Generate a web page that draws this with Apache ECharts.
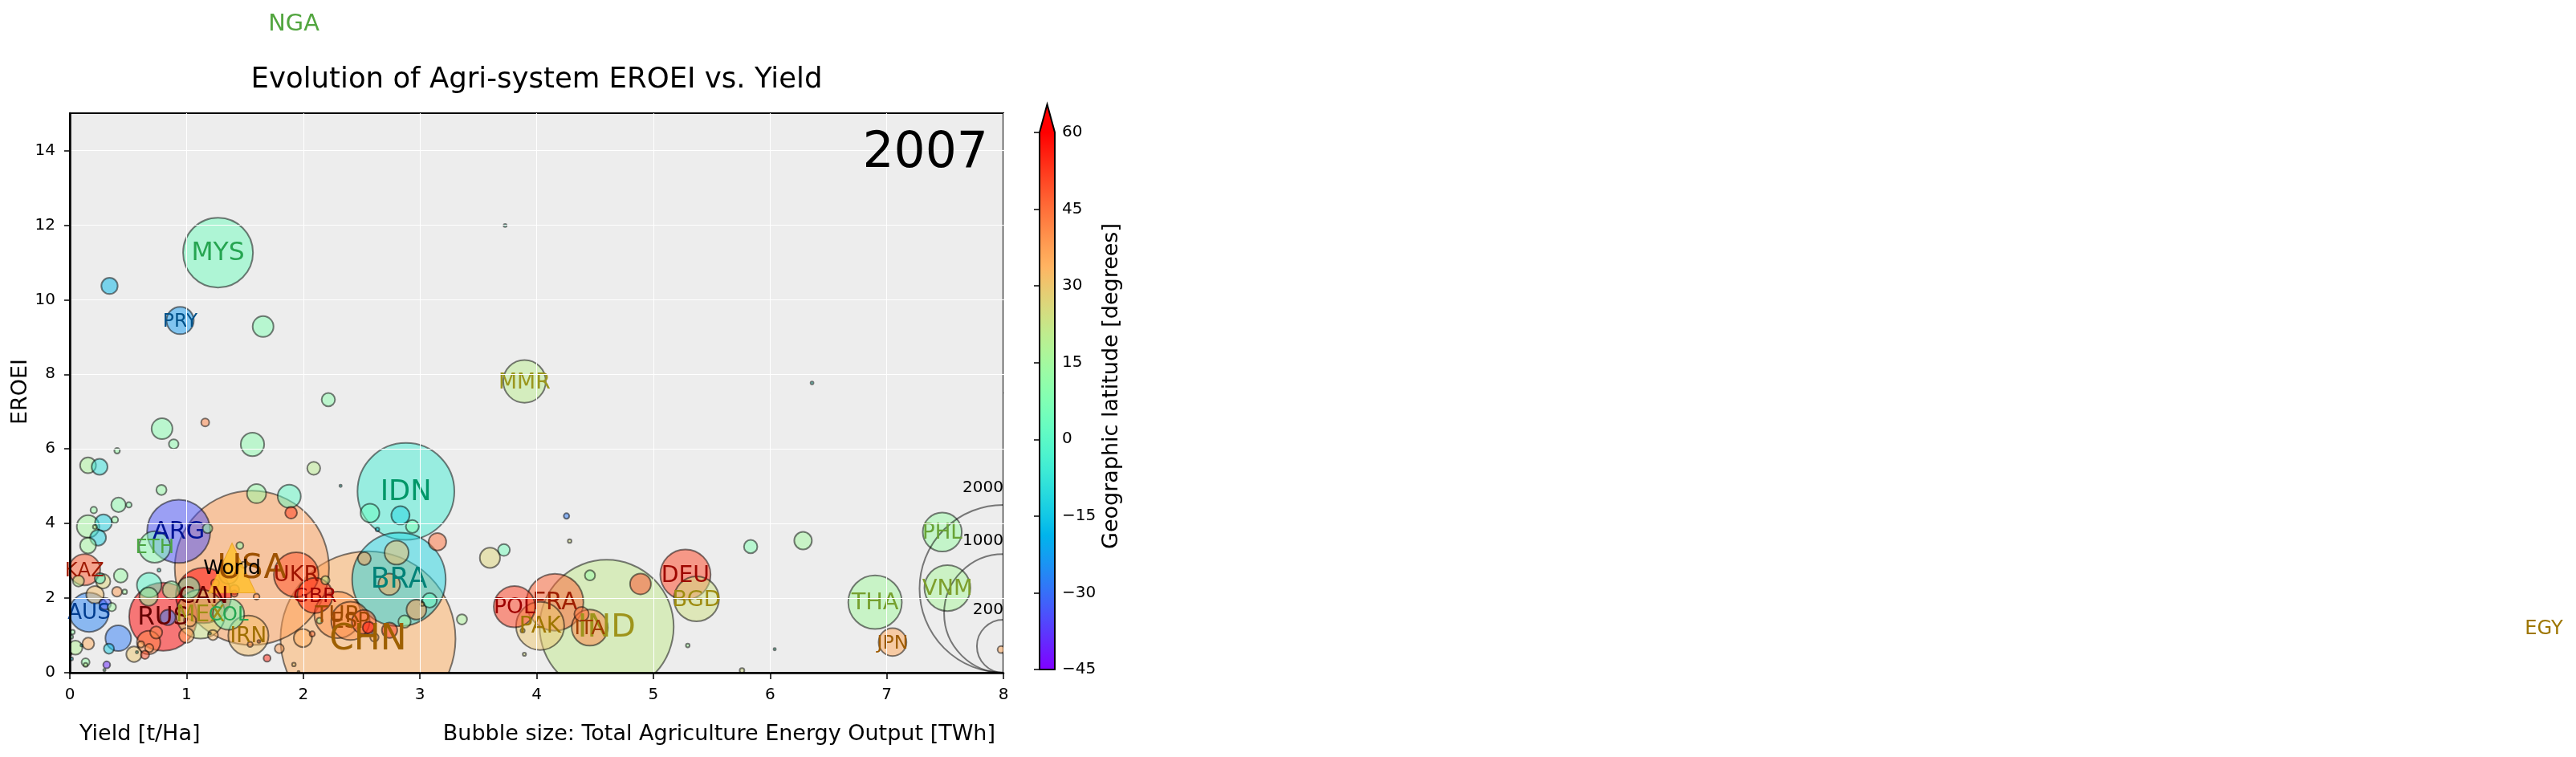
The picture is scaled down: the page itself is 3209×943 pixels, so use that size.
<!DOCTYPE html>
<html><head><meta charset="utf-8">
<style>html,body{margin:0;padding:0;background:#fff}#c{width:3209px;height:943px}</style>
<script src="https://cdn.jsdelivr.net/npm/echarts@6/dist/echarts.min.js"></script>
</head><body><div id="c"></div>
<script>
// Named countries
const names = ['MYS','PRY','MMR','IDN','ARG','ETH','USA','KAZ','CAN','RUS','MEX','COL','IRN','AUS','UKR','GBR','TUR','ESP','CHN','BRA','POL','FRA','PAK','IND','ITA','DEU','BGD','THA','JPN','VNM','PHL'];
const yields = [1.27,.945,3.896,2.88,.933,.727,1.56,.126,1.146,.80,1.12,1.36,1.53,.165,1.94,2.10,2.295,2.405,2.555,2.82,3.81,4.157,4.03,4.6,4.455,5.275,5.37,6.9,7.05,7.52,7.476];
const eroei = [11.26,9.44,7.81,4.86,3.79,3.37,2.81,2.76,2.07,1.5,1.57,1.57,.995,1.62,2.63,2.07,1.55,1.39,.91,2.5,1.77,1.89,1.255,1.23,1.21,2.63,1.98,1.89,.82,2.27,3.77];
const energy = [347,53,129,667,284,70,1690,70,218,330,170,70,115,110,142,89,154,105,2176,622,122,231,165,1277,93,180,144,204,55,150,108];
const latitude = [4,-23,20,-5,-34,9,38,48,60,62,23,4,32,-27,49,54,39,40,35,-12,52,47,30,21,42,51,24,15,36,16,13];

// Countries whose points lie outside the axes (only their labels show)
const offNames = ['NGA','EGY'];
const offYields = [1.92,21.2];
const offEroei = [17.42,1.21];
const offEnergy = [206,65];
const offLatitude = [10,30];

// Unlabelled countries
const smallYields = [.34,1.656,3.73,2.215,1.16,.79,.89,1.565,.405,.156,
 .255,2.09,2.32,1.88,1.6,1.896,.785,.205,.417,.506,
 .156,.288,.386,.215,.242,.156,1.18,1.457,.764,.436,
 .258,.285,.074,.68,.675,.87,1.02,.303,.36,.216,
 .404,.47,.84,1.03,1.0,.74,.675,.61,.68,.644,
 .55,.575,.415,.335,.158,.048,.1,.023,.014,.135,
 .135,.316,.296,.014,.005,1.226,1.2,1.545,1.62,1.6,
 1.795,1.69,1.92,1.96,1.49,1.36,1.245,1.41,1.41,2.19,
 2.52,2.56,2.74,2.61,1.997,2.077,2.14,2.80,2.524,3.15,
 2.737,2.97,3.083,3.02,2.868,3.36,2.572,2.833,2.935,2.636,
 3.6,3.72,3.88,3.895,4.385,4.457,4.89,4.256,4.283,6.36,
 5.834,6.283,5.295,6.04,5.76,7.98];
const smallEroei = [10.37,9.28,11.99,7.32,6.71,6.54,6.13,6.12,5.95,5.56,
 5.52,5.48,5.01,4.73,4.8,4.29,4.9,4.36,4.5,4.5,
 3.92,4.02,4.1,3.91,3.62,3.41,3.87,3.41,2.75,2.6,
 2.53,2.45,2.46,2.35,2.04,2.22,2.28,1.85,1.76,2.09,
 2.17,2.17,1.48,1.4,1.0,1.08,.81,.76,.66,.48,
 .495,.55,.925,.645,.78,.67,.73,1.09,.96,.28,
 .21,.21,.07,.37,.5,1.01,1.05,.76,.84,2.04,
 .645,.39,.22,.02,2.89,2.64,2.4,2.23,2.12,2.48,
 1.36,1.21,1.14,.945,.93,1.04,1.395,3.22,3.06,3.51,
 2.37,1.69,1.94,1.84,1.37,1.43,4.28,4.22,3.92,3.84,
 3.08,3.29,1.13,.495,1.57,2.61,2.38,4.2,3.53,7.77,
 3.38,3.54,.73,.63,.06,.62];
const smallEnergy = [19,31,.7,12.7,4.6,31,6.6,39,2.2,18,
 18,12,.4,38,26,10,7.4,3,15,2.2,
 36,20,3,1.2,18,18,6.6,3.5,.7,13.5,
 8,15,9,43,24,22,33,10,5,22,
 7,1.6,17,10.5,16,10.5,39,3,5,5,
 17,.4,47,7.4,10,14,.4,1.5,.8,4.6,
 1.2,3.5,.4,.7,.4,7.4,.4,2,.6,2.5,
 6,3.5,1,.3,3,26,4.6,6.6,3,5,
 41,10,17,5,23.6,2,2.5,41,12,22,
 33,28,15,1,11,7.4,25,23.6,12,1,
 29,10,1.2,.8,15,7.4,31,2.2,1,.6,
 12.7,22,1,.4,1.6,3.5];
const smallLatitude = [-18,8,0,10,42,9,10,10,12,16,
 -9,20,-5,1,12,52,12,12,10,10,
 15,-13,12,20,-13,15,12,10,-5,13,
 -2,27,20,-1,12,12,2,-33,14,32,
 38,15,-28,35,35,42,42,35,40,50,
 30,0,-28,-14,35,18,-10,12,10,12,
 20,-40,10,-15,50,33,10,40,45,40,
 38,55,30,30,30,42,48,50,52,20,
 47,58,52,35,35,45,14,32,38,45,
 36,38,2,30,15,17,3,-12,8,-15,
 27,5,25,25,45,13,50,-28,25,-5,
 8,15,15,0,25,36];

// World aggregate
const worldPoint = [1.39, 2.81];

// Bubble-size key
const keyValues = [2000,1000,200];
const keyY = [2.25,1.59,.71];
const keyLabelY = [4.95,3.53,1.68];

// Axes
const xTicks = [0,1,2,3,4,5,6,7,8];
const yTicks = [0,2,4,6,8,10,12,14];
const colorTicks = [-45,-30,-15,0,15,30,45,60];

const FONT = 'DejaVu Sans';
const SCALE_D = 209;                 // px diameter of the 2000 TWh key circle
const diam = e => SCALE_D*Math.sqrt(e/2000);
const labelFont = e => 10 + 2.3*Math.sqrt(diam(e));

function rgbOf(lat){
  const t = Math.max(0,Math.min(1,(lat+45)/105));
  return [Math.abs(2*t-.5), Math.sin(Math.PI*t), Math.cos(Math.PI*t/2)].map(v=>Math.min(1,v));
}
const css = c => 'rgb('+c.map(v=>Math.round(255*Math.max(0,Math.min(1,v)))).join(',')+')';
const rainbow = lat => css(rgbOf(lat));
const labelColor = lat => {
  const [r,g,b] = rgbOf(lat);
  const red = Math.min(lat>=58 ? .4 : .62, 1.5*r-.5);
  return css([red, .85*g-.2, 1.1*b-.5]);
};

const labelItem = (n,x,y,e,lat) => ({
  name:n, value:[x,y],
  label:{show:true, formatter:n, fontSize:labelFont(e), color:labelColor(lat), fontFamily:FONT, opacity:1}
});
const labels = names.map((n,i)=>labelItem(n,yields[i],eroei[i],energy[i],latitude[i]))
  .concat(offNames.map((n,i)=>labelItem(n,offYields[i],offEroei[i],offEnergy[i],offLatitude[i])));
labels.push({name:'World',value:worldPoint,label:{show:true,formatter:'World',color:'#000',fontSize:25,fontFamily:FONT,opacity:1}});

const bubbles = yields.map((x,i)=>[x,eroei[i],energy[i],latitude[i]])
  .concat(smallYields.map((x,i)=>[x,smallEroei[i],smallEnergy[i],smallLatitude[i]]))
  .sort((a,b)=>b[2]-a[2]);

const stops = [];
for(let i=0;i<=40;i++){ const lat=-45+105*i/40; stops.push({offset:1-i/40,color:rainbow(lat)}); }

const chart = echarts.init(document.getElementById('c'),null,{renderer:'canvas'});
chart.setOption({
  animation:false,
  backgroundColor:'#fff',
  grid:[
    {left:87,top:141,width:1163,height:697,show:true,backgroundColor:'#ededed',borderColor:'#000',borderWidth:2,z:0},
    {left:1295,top:165,width:19,height:669,show:false}
  ],
  xAxis:[
    {type:'value',gridIndex:0,min:0,max:8,interval:1,z:8,
     axisLine:{show:true,onZero:false,lineStyle:{color:'#000',width:2.5}},
     axisTick:{show:true,length:8,lineStyle:{color:'#000',width:1.5}},
     axisLabel:{color:'#000',fontFamily:FONT,fontSize:20,margin:18,customValues:xTicks},
     splitLine:{show:true,lineStyle:{color:'#fff',width:1}}},
    {type:'value',gridIndex:1,min:0,max:1,show:false}
  ],
  yAxis:[
    {type:'value',gridIndex:0,min:0,max:15,z:8,
     axisLine:{show:true,onZero:false,lineStyle:{color:'#000',width:2.5}},
     axisTick:{show:true,length:7,lineStyle:{color:'#000',width:1.5},customValues:yTicks},
     axisLabel:{color:'#000',fontFamily:FONT,fontSize:20,margin:18,customValues:yTicks},
     splitLine:{show:true,lineStyle:{color:'#fff',width:1}}},
    {type:'value',gridIndex:1,min:-45,max:60,interval:15,position:'right',z:8,
     axisLine:{show:false},
     axisTick:{show:true,inside:true,length:7,lineStyle:{color:'#000',width:1.5}},
     axisLabel:{color:'#000',fontFamily:FONT,fontSize:20,margin:9,formatter:v=>String(v).replace('-','\u2212')},
     splitLine:{show:false}}
  ],
  series:[
    {type:'custom',name:'bubbles',xAxisIndex:0,yAxisIndex:0,clip:true,z:3,silent:true,
     data:bubbles,
     encode:{x:0,y:1},
     renderItem:(params,api)=>{
       const c=api.coord([api.value(0),api.value(1)]);
       return {type:'circle',shape:{cx:c[0],cy:c[1],r:diam(api.value(2))/2},
         style:{fill:rainbow(api.value(3)),stroke:'#000',lineWidth:2,opacity:.5}};
     }},
    {type:'scatter',name:'World',xAxisIndex:0,yAxisIndex:0,clip:true,z:4,
     data:[worldPoint],
     symbol:'triangle',symbolSize:[59,62],
     itemStyle:{color:'#ffc02e',opacity:.85,borderColor:'#e9a020',borderWidth:1},
     emphasis:{disabled:true},silent:true},
    {type:'custom',name:'key',xAxisIndex:0,yAxisIndex:0,clip:true,z:5,silent:true,
     data:keyValues.map((k,i)=>[8,keyY[i],k]),
     encode:{x:0,y:1},
     renderItem:(params,api)=>{
       const c=api.coord([api.value(0),api.value(1)]);
       return {type:'circle',shape:{cx:c[0],cy:c[1],r:diam(api.value(2))/2},
         style:{fill:'none',stroke:'rgba(0,0,0,.5)',lineWidth:2}};
     }},
    {type:'scatter',name:'keyLabels',xAxisIndex:0,yAxisIndex:0,clip:false,z:6,
     data:keyValues.map((k,i)=>[8,keyLabelY[i],k]),
     symbol:'circle',symbolSize:0,itemStyle:{opacity:1},
     label:{show:true,position:'left',distance:0,formatter:p=>String(p.value[2]),color:'#000',fontFamily:FONT,fontSize:20,opacity:1},
     emphasis:{disabled:true},silent:true},
    {type:'scatter',name:'labels',xAxisIndex:0,yAxisIndex:0,clip:false,z:7,
     data:labels,symbol:'circle',symbolSize:0,itemStyle:{opacity:1},
     label:{show:false,position:'inside',offset:[0,1.5]},
     emphasis:{disabled:true},silent:true},
    {type:'custom',name:'colorbar',xAxisIndex:1,yAxisIndex:1,z:2,silent:true,
     data:[[0,colorTicks[0],colorTicks[colorTicks.length-1]]],
     renderItem:(params,api)=>{
       const a=api.coord([0,api.value(1)]), b=api.coord([1,api.value(2)]);
       const tip=35, mid=(a[0]+b[0])/2;
       return {type:'group',children:[
         {type:'rect',shape:{x:a[0],y:b[1],width:b[0]-a[0],height:a[1]-b[1]},
          style:{fill:new echarts.graphic.LinearGradient(0,0,0,1,stops)}},
         {type:'polygon',shape:{points:[[a[0],b[1]+1],[mid,b[1]-tip],[b[0],b[1]+1]]},
          style:{fill:'#ff0000'}},
         {type:'polygon',shape:{points:[[a[0],a[1]],[a[0],b[1]],[mid,b[1]-tip],[b[0],b[1]],[b[0],a[1]]]},
          style:{fill:'none',stroke:'#000',lineWidth:2}}
       ]};
     }}
  ],
  graphic:[
    {type:'text',x:668.5,y:100,z:10,style:{text:'Evolution of Agri-system EROEI vs. Yield',font:'35.5px "DejaVu Sans"',fill:'#000',align:'center',verticalAlign:'middle'}},
    {type:'text',x:1231,y:192,z:10,style:{text:'2007',font:'61.5px "DejaVu Sans"',fill:'#000',align:'right',verticalAlign:'middle'}},
    {type:'text',x:99,y:915,z:10,style:{text:'Yield [t/Ha]',font:'27px "DejaVu Sans"',fill:'#000',align:'left',verticalAlign:'middle'}},
    {type:'text',x:1240,y:915,z:10,style:{text:'Bubble size: Total Agriculture Energy Output [TWh]',font:'27px "DejaVu Sans"',fill:'#000',align:'right',verticalAlign:'middle'}},
    {type:'text',x:26,y:488,rotation:Math.PI/2,z:10,style:{text:'EROEI',font:'27px "DejaVu Sans"',fill:'#000',align:'center',verticalAlign:'middle'}},
    {type:'text',x:1385,y:481,rotation:Math.PI/2,z:10,style:{text:'Geographic latitude [degrees]',font:'27px "DejaVu Sans"',fill:'#000',align:'center',verticalAlign:'middle'}}
  ]
});
</script></body></html>
